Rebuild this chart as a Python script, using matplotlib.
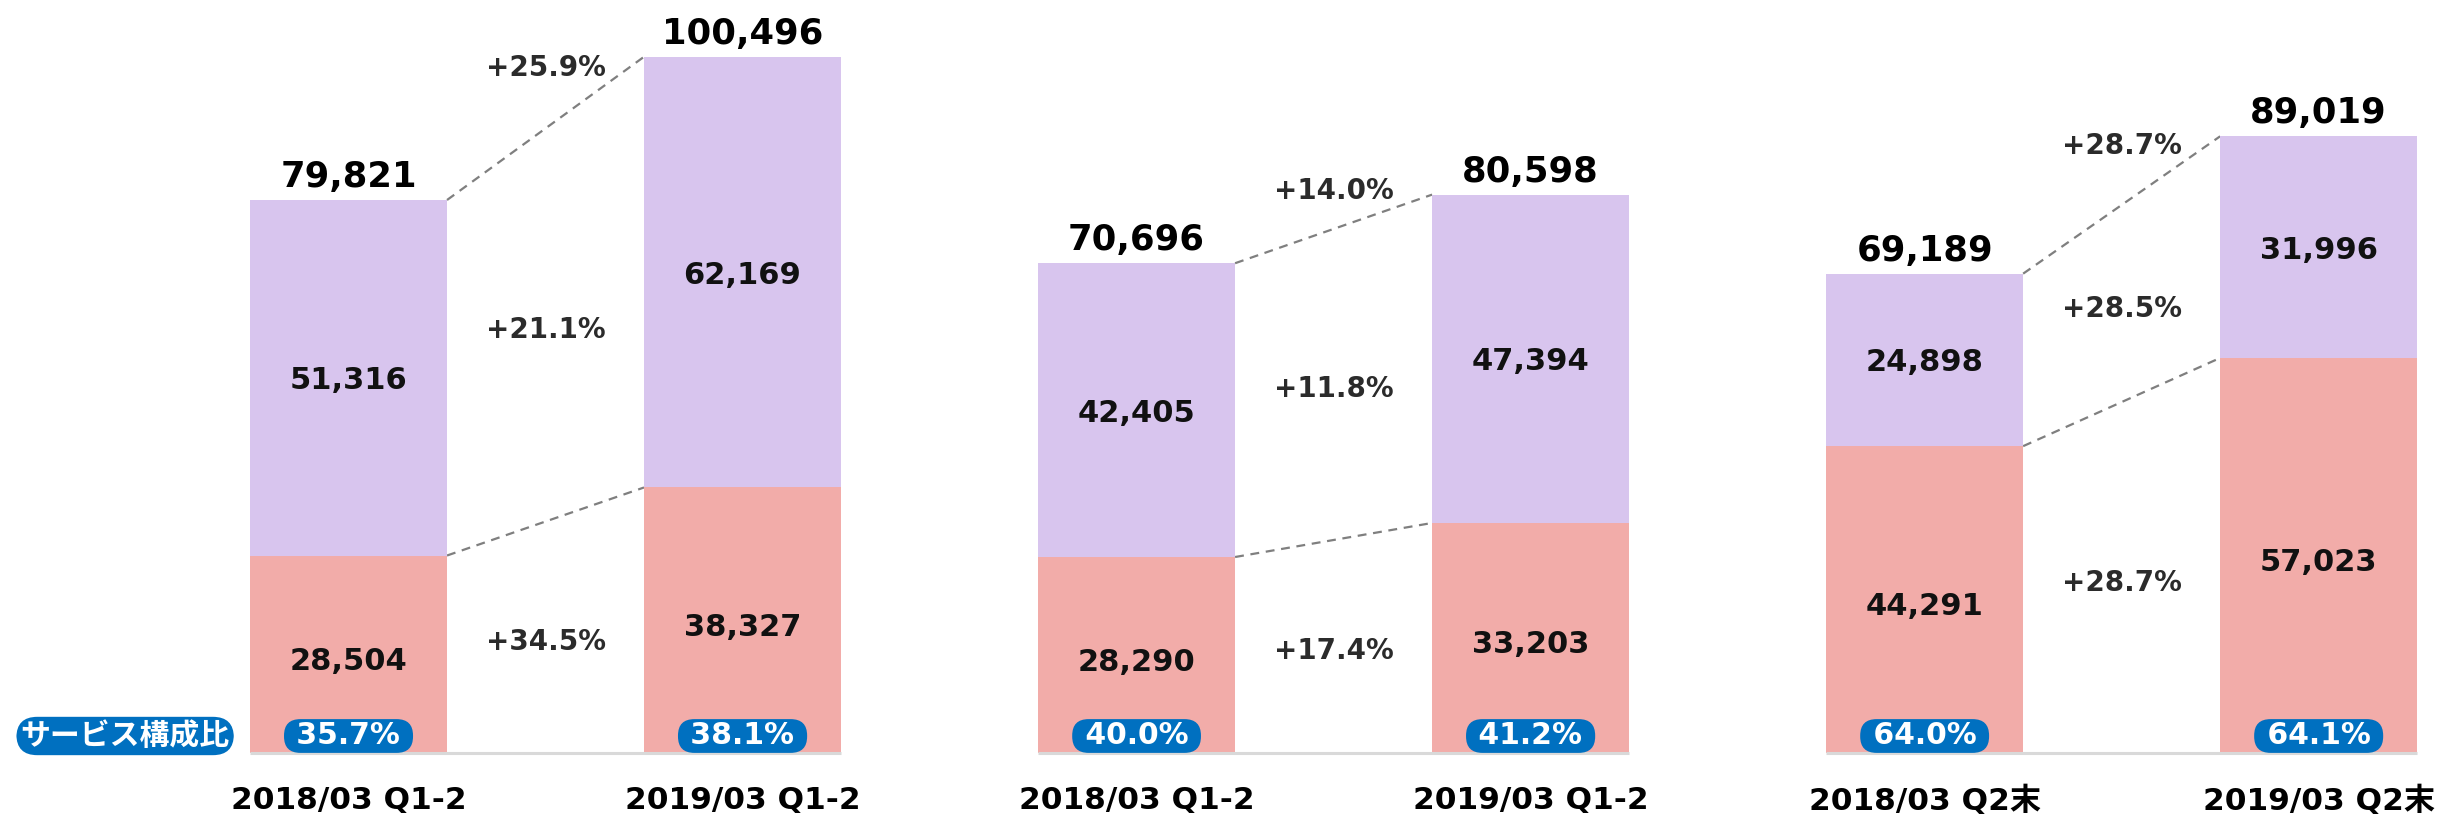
import matplotlib
matplotlib.use("Agg")
import matplotlib.pyplot as plt
import numpy as np

# ---- data ----
periods = ["2018/03 Q1-2", "2019/03 Q1-2", "2018/03 Q1-2", "2019/03 Q1-2", "2018/03 Q2末", "2019/03 Q2末"]
service_vals = [28504, 38327, 28290, 33203, 44291, 57023]
other_vals = [51316, 62169, 42405, 47394, 24898, 31996]
totals = [79821, 100496, 70696, 80598, 69189, 89019]
ratio_labels = ["35.7%", "38.1%", "40.0%", "41.2%", "64.0%", "64.1%"]
growth_total = ["+25.9%", "+14.0%", "+28.7%"]
growth_other = ["+21.1%", "+11.8%", "+28.5%"]
growth_service = ["+34.5%", "+17.4%", "+28.7%"]
ratio_title = "サービス構成比"

PINK = "#F2ACA9"
PURPLE = "#D8C5EE"
BLUE = "#0070C0"
DARK = "#2B2B2B"

plt.rcParams['font.family'] = ['DejaVu Sans', 'Noto Sans CJK JP']

fig = plt.figure(figsize=(24.42, 8.22), dpi=100)
ax = fig.add_axes([0, 0, 1, 1])
ax.set_xlim(-0.8845, 5.313)
ax.set_ylim(-9960, 108690)
ax.axis('off')

x = np.arange(len(periods))
w = 0.5
ax.bar(x, service_vals, width=w, color=PINK, zorder=2)
ax.bar(x, other_vals, width=w, bottom=service_vals, color=PURPLE, zorder=2)

# baseline per panel
for p in range(3):
    a, b = 2 * p, 2 * p + 1
    ax.plot([x[a] - w / 2, x[b] + w / 2], [0, 0], color="#D9D9D9", lw=2.2,
            solid_capstyle='butt', zorder=3)

# values
for i in range(len(periods)):
    top = service_vals[i] + other_vals[i]
    ax.annotate(f"{totals[i]:,}", (x[i], top), xytext=(0, 13), textcoords='offset pixels',
                ha='center', va='baseline', fontsize=25.5, fontweight='bold', color='black')
    ax.text(x[i], service_vals[i] + other_vals[i] / 2, f"{other_vals[i]:,}", ha='center',
            va='center_baseline', fontsize=22, fontweight='bold', color='#111111', zorder=4)
    ax.annotate(f"{service_vals[i]:,}", (x[i], service_vals[i] / 2), xytext=(0, -4),
                textcoords='offset pixels', ha='center', va='center_baseline',
                fontsize=22, fontweight='bold', color='#111111', zorder=4)
    ax.annotate(periods[i], (x[i], 0), xytext=(0, -48), textcoords='offset pixels',
                ha='center', va='center', fontsize=22.5, fontweight='bold', color='black',
                family=['DejaVu Sans', 'Noto Sans CJK JP'])
    ax.annotate(" " + ratio_labels[i] + " ", (x[i], 0), xytext=(0, 17),
                textcoords='offset pixels',
                ha='center', va='center', fontsize=21.5, fontweight='bold', color='white',
                zorder=5,
                bbox=dict(boxstyle='round,pad=0.08,rounding_size=0.55', fc=BLUE, ec='none'))

# connecting dashed lines and growth labels
for p in range(3):
    a, b = 2 * p, 2 * p + 1
    ta = service_vals[a] + other_vals[a]
    tb = service_vals[b] + other_vals[b]
    x0, x1 = x[a] + w / 2, x[b] - w / 2
    ax.plot([x0, x1], [ta, tb], color="#7F7F7F", lw=1.6, ls=(0, (4, 3)), zorder=1)
    ax.plot([x0, x1], [service_vals[a], service_vals[b]],
            color="#7F7F7F", lw=1.6, ls=(0, (4, 3)), zorder=1)
    xm = (x[a] + x[b]) / 2
    # total growth label sits just above the dashed line, near the right bar
    xr = x1 - 0.098
    yl = ta + (tb - ta) * (xr - x0) / (x1 - x0)
    ax.annotate(growth_total[p], (xr, yl), xytext=(0, 17), textcoords='offset pixels',
                ha='right', va='center', fontsize=20, fontweight='bold', color=DARK)
    ym = (service_vals[a] + other_vals[a] / 2 + service_vals[b] + other_vals[b] / 2) / 2
    ax.annotate(growth_other[p], (xm, ym), xytext=(0, -5), textcoords='offset pixels',
                ha='center', va='center', fontsize=20, fontweight='bold', color=DARK)
    ys = (service_vals[a] / 2 + service_vals[b] / 2) / 2
    ax.annotate(growth_service[p], (xm, ys), xytext=(0, -5), textcoords='offset pixels',
                ha='center', va='center', fontsize=20, fontweight='bold', color=DARK)

# ratio title badge
ax.annotate(ratio_title, (-0.567, 0), xytext=(0, 17), textcoords='offset pixels',
            ha='center', va='center', fontsize=21.5, fontweight='bold', color='white',
            family=['Noto Sans CJK JP', 'DejaVu Sans'],
            bbox=dict(boxstyle='round,pad=0.14,rounding_size=0.7', fc=BLUE, ec='none'))

fig.savefig("out.png", dpi=100, facecolor='white')
